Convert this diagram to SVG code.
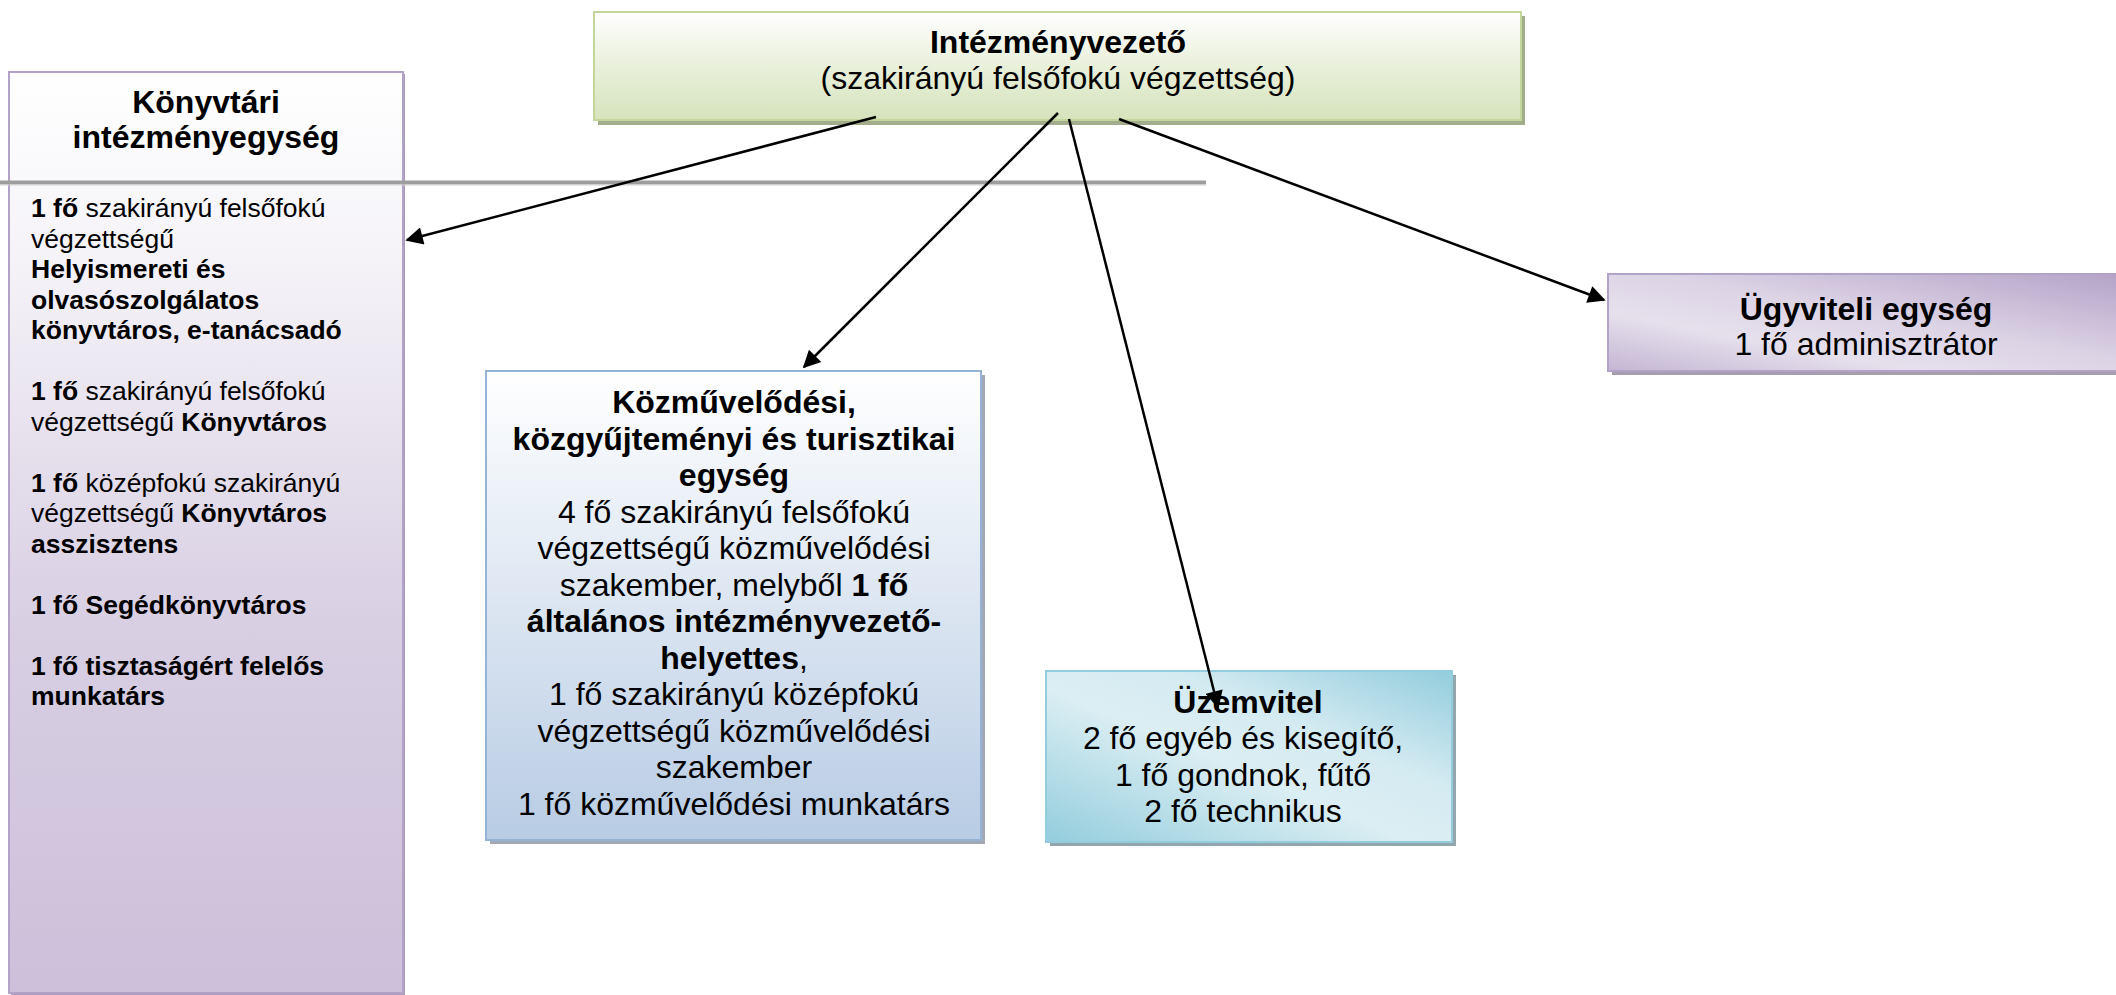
<svg xmlns="http://www.w3.org/2000/svg" width="2116" height="995" viewBox="0 0 2116 995">
<style>
text{font-family:"Liberation Sans",Arial,sans-serif;fill:#000}
.b{font-weight:bold}
.t32{font-size:32px}
.t26{font-size:26.5px}
.c{text-anchor:middle}
.conn{stroke:#000;stroke-width:2.5;fill:none;marker-end:url(#ah)}
</style>
<defs>
<linearGradient id="gTop" x1="0" y1="0" x2="0" y2="1"><stop offset="0" stop-color="#ffffff"/><stop offset="0.45" stop-color="#ebf1de"/><stop offset="1" stop-color="#d6e3bc"/></linearGradient>
<linearGradient id="gLeft" x1="0" y1="0" x2="0" y2="1"><stop offset="0" stop-color="#ffffff"/><stop offset="0.2" stop-color="#f5f3f8"/><stop offset="0.6" stop-color="#d8cfe3"/><stop offset="1" stop-color="#ccc0da"/></linearGradient>
<linearGradient id="gMid" x1="0" y1="0" x2="0" y2="1"><stop offset="0" stop-color="#ffffff"/><stop offset="1" stop-color="#b8cce4"/></linearGradient>
<linearGradient id="gUz" x1="0" y1="1" x2="1" y2="0"><stop offset="0" stop-color="#93cddd"/><stop offset="0.45" stop-color="#dbeef3"/><stop offset="0.65" stop-color="#d5ebf2"/><stop offset="1" stop-color="#93cddd"/></linearGradient>
<linearGradient id="gUg" x1="0" y1="1" x2="1" y2="0"><stop offset="0" stop-color="#c3b6d3"/><stop offset="0.3" stop-color="#e6e0ed"/><stop offset="0.55" stop-color="#dcd3e5"/><stop offset="1" stop-color="#b3a2c7"/></linearGradient>
<marker id="ah" viewBox="0 0 10 10" refX="9" refY="5" markerWidth="8" markerHeight="7" orient="auto" markerUnits="strokeWidth"><path d="M0,0 L10,5 L0,10 z" fill="#000"/></marker>
</defs>

<g id="node-konyvtari">
<rect x="11" y="74" width="394" height="921" fill="#a99cbb"/>
<rect x="9" y="72" width="394" height="921" fill="url(#gLeft)" stroke="#b3a2c7" stroke-width="2"/>
<text class="b t32 c" x="206" y="113">Könyvtári</text>
<text class="b t32 c" x="206" y="148">intézményegység</text>
<text class="t26" x="31" y="217"><tspan class="b">1 fő</tspan> szakirányú felsőfokú</text>
<text class="t26" x="31" y="247.5">végzettségű</text>
<text class="t26 b" x="31" y="278">Helyismereti és</text>
<text class="t26 b" x="31" y="308.5">olvasószolgálatos</text>
<text class="t26 b" x="31" y="339">könyvtáros, e-tanácsadó</text>
<text class="t26" x="31" y="400"><tspan class="b">1 fő</tspan> szakirányú felsőfokú</text>
<text class="t26" x="31" y="430.5">végzettségű <tspan class="b">Könyvtáros</tspan></text>
<text class="t26" x="31" y="491.5"><tspan class="b">1 fő</tspan> középfokú szakirányú</text>
<text class="t26" x="31" y="522">végzettségű <tspan class="b">Könyvtáros</tspan></text>
<text class="t26 b" x="31" y="552.5">asszisztens</text>
<text class="t26 b" x="31" y="613.5">1 fő Segédkönyvtáros</text>
<text class="t26 b" x="31" y="674.5">1 fő tisztaságért felelős</text>
<text class="t26 b" x="31" y="705">munkatárs</text>
</g>

<g id="separator">
<line x1="0" y1="182.5" x2="1206" y2="182.5" stroke="#9d9d9d" stroke-width="4"/>
<line x1="0" y1="185" x2="1206" y2="185" stroke="#d2d2d2" stroke-width="1"/>
</g>

<g id="node-intezmenyvezeto">
<rect x="598" y="16" width="927" height="109" fill="#a3ac8c"/>
<rect x="594" y="12" width="927" height="108" fill="url(#gTop)" stroke="#c3d69b" stroke-width="2"/>
<text class="b t32 c" x="1058" y="53">Intézményvezető</text>
<text class="t32 c" x="1058" y="89">(szakirányú felsőfokú végzettség)</text>
</g>

<g id="node-kozmuvelodesi">
<rect x="490" y="375" width="495" height="469" fill="#a2a9b4"/>
<rect x="486" y="371" width="495" height="469" fill="url(#gMid)" stroke="#95b3d7" stroke-width="2"/>
<text class="b t32 c" x="734" y="413">Közművelődési,</text>
<text class="b t32 c" x="734" y="449.5">közgyűjteményi és turisztikai</text>
<text class="b t32 c" x="734" y="486">egység</text>
<text class="t32 c" x="734" y="522.5">4 fő szakirányú felsőfokú</text>
<text class="t32 c" x="734" y="559">végzettségű közművelődési</text>
<text class="t32 c" x="734" y="595.5">szakember, melyből <tspan class="b">1 fő</tspan></text>
<text class="t32 c b" x="734" y="632">általános intézményvezető-</text>
<text class="t32 c" x="734" y="668.5"><tspan class="b">helyettes</tspan>,</text>
<text class="t32 c" x="734" y="705">1 fő szakirányú középfokú</text>
<text class="t32 c" x="734" y="741.5">végzettségű közművelődési</text>
<text class="t32 c" x="734" y="778">szakember</text>
<text class="t32 c" x="734" y="814.5">1 fő közművelődési munkatárs</text>
</g>

<g id="node-uzemvitel">
<rect x="1050" y="675" width="406" height="171" fill="#93a6ae"/>
<rect x="1046" y="671" width="406" height="171" fill="url(#gUz)" stroke="#93cddd" stroke-width="2"/>
<text class="b t32 c" x="1248" y="713">Üzemvitel</text>
<text class="t32 c" x="1243" y="749">2 fő egyéb és kisegítő,</text>
<text class="t32 c" x="1243" y="785.5">1 fő gondnok, fűtő</text>
<text class="t32 c" x="1243" y="822">2 fő technikus</text>
</g>

<g id="node-ugyviteli">
<rect x="1612" y="278" width="516" height="97" fill="#a49eaf"/>
<rect x="1608" y="274" width="516" height="97" fill="url(#gUg)" stroke="#b3a2c7" stroke-width="2"/>
<text class="b t32 c" x="1866" y="320">Ügyviteli egység</text>
<text class="t32 c" x="1866" y="355">1 fő adminisztrátor</text>
</g>

<g id="connectors">
<line class="conn" x1="876" y1="117" x2="407" y2="240"/>
<line class="conn" x1="1058" y1="113" x2="804" y2="367"/>
<line class="conn" x1="1069" y1="119" x2="1218" y2="707"/>
<line class="conn" x1="1119" y1="119" x2="1604" y2="300"/>
</g>
</svg>
